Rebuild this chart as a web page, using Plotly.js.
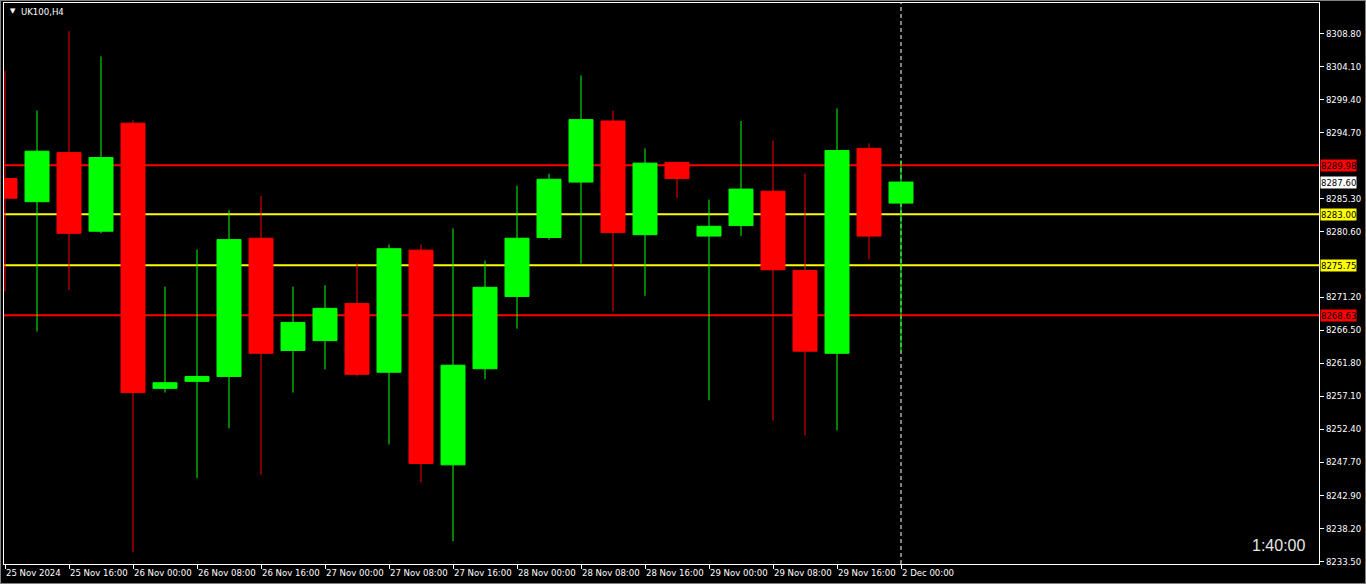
<!DOCTYPE html>
<html>
<head>
<meta charset="utf-8">
<script src="https://cdn.plot.ly/plotly-3.0.1.min.js"></script>
<style>
html,body{margin:0;padding:0;background:#000;}
#chart{width:1366px;height:584px;}
</style>
</head>
<body>
<div id="chart"></div>
<script>
// ---- data ----
const barTimes = [
  "25 Nov 08:00","25 Nov 12:00","25 Nov 16:00","25 Nov 20:00",
  "26 Nov 00:00","26 Nov 04:00","26 Nov 08:00","26 Nov 12:00","26 Nov 16:00","26 Nov 20:00",
  "27 Nov 00:00","27 Nov 04:00","27 Nov 08:00","27 Nov 12:00","27 Nov 16:00","27 Nov 20:00",
  "28 Nov 00:00","28 Nov 04:00","28 Nov 08:00","28 Nov 12:00","28 Nov 16:00","28 Nov 20:00",
  "29 Nov 00:00","29 Nov 04:00","29 Nov 08:00","29 Nov 12:00","29 Nov 16:00","29 Nov 20:00",
  "2 Dec 00:00"
];
const openP  = [8288.1,8284.8,8291.8,8280.6,8296.0,8258.2,8259.2,8259.9,8279.6,8263.6,
                8265.0,8270.3,8260.5,8277.9,8247.3,8261.0,8271.3,8279.7,8287.6,8296.3,
                8280.1,8290.4,8279.9,8281.4,8286.3,8275.0,8263.2,8292.4,8284.6];
const highP  = [8303.5,8297.8,8309.1,8305.5,8296.4,8272.7,8278.0,8283.6,8285.6,8272.7,
                8272.9,8276.0,8278.7,8278.7,8281.0,8276.4,8287.1,8288.8,8302.8,8297.8,
                8292.4,8290.5,8285.1,8296.3,8293.5,8288.8,8298.1,8293.1,8290.7];
const lowP   = [8272.0,8266.3,8272.2,8280.3,8234.9,8257.6,8245.4,8252.5,8245.9,8257.6,
                8260.9,8259.9,8250.2,8244.8,8236.4,8259.5,8266.7,8279.4,8276.0,8269.2,
                8271.4,8285.3,8256.5,8279.9,8253.6,8251.5,8252.2,8276.6,8263.5];
const closeP = [8285.3,8292.0,8280.3,8291.1,8257.6,8259.0,8259.9,8279.4,8263.2,8267.6,
                8269.6,8260.2,8278.1,8247.5,8261.5,8272.6,8279.6,8288.0,8296.5,8280.4,
                8290.3,8288.1,8281.3,8286.6,8275.1,8263.5,8292.1,8279.9,8287.6];

const xTickIdx   = [0,2,4,6,8,10,12,14,16,18,20,22,24,26,28];
const xTickText  = ["25 Nov 2024","25 Nov 16:00","26 Nov 00:00","26 Nov 08:00","26 Nov 16:00",
                    "27 Nov 00:00","27 Nov 08:00","27 Nov 16:00","28 Nov 00:00","28 Nov 08:00",
                    "28 Nov 16:00","29 Nov 00:00","29 Nov 08:00","29 Nov 16:00","2 Dec 00:00"];
const yTickVals  = [8308.80,8304.10,8299.40,8294.70,8285.30,8280.60,8271.20,8266.50,
                    8261.80,8257.10,8252.40,8247.70,8242.90,8238.20,8233.50];

const levelPrices = [8289.98, 8283.00, 8275.75, 8268.63];
const levelKinds  = ["resistance","pivot","pivot","support"];
const currentPrice = 8287.60;
const symbolTitle = "UK100,H4";
const timerText = "1:40:00";
const separatorIdx = 28;

// ---- styles ----
const GREEN = "#00ff00", RED = "#ff0000", YELLOW = "#ffff00";
const FONT = "Tahoma, 'DejaVu Sans Condensed', 'Liberation Sans', sans-serif";
const idx = barTimes.map((_, i) => i);

const trace = {
  type: "candlestick",
  x: idx, open: openP, high: highP, low: lowP, close: closeP,
  text: barTimes,
  increasing: {line: {color: GREEN, width: 1}, fillcolor: GREEN},
  decreasing: {line: {color: RED, width: 1}, fillcolor: RED},
  whiskerwidth: 0,
  hoverinfo: "skip",
  showlegend: false
};

const levelColor = k => (k === "pivot" ? YELLOW : RED);

const shapes = [];
// separator (dashed, behind candles)
shapes.push({type: "line", xref: "x", yref: "paper", x0: separatorIdx, x1: separatorIdx, y0: 0, y1: 1,
             line: {color: "#ffffff", width: 1, dash: "4px,3px"}, layer: "below"});
levelPrices.forEach((p, i) => {
  shapes.push({type: "line", xref: "paper", yref: "y", x0: 0, x1: 1, y0: p, y1: p,
               line: {color: levelColor(levelKinds[i]), width: 2}, layer: "below"});
});
// outer window frame (grey)
shapes.push({type: "rect", xref: "paper", yref: "paper", x0: -4/1315, x1: 1 + 47/1315, y0: -20/561, y1: 1 + 3/561,
             line: {color: "#808080", width: 2}, fillcolor: "rgba(0,0,0,0)", layer: "below"});

const annotations = [];
levelPrices.forEach((p, i) => {
  annotations.push({xref: "paper", yref: "y", x: 1, y: p, xanchor: "left", yanchor: "middle", xshift: 1,
    text: p.toFixed(2), showarrow: false, bgcolor: levelColor(levelKinds[i]), borderpad: 0,
    font: {family: FONT, size: 9.5, color: "#000000"}});
});
annotations.push({xref: "paper", yref: "y", x: 1, y: currentPrice, xanchor: "left", yanchor: "middle", xshift: 1,
  text: currentPrice.toFixed(2), showarrow: false, bgcolor: "#ffffff", borderpad: 0,
  font: {family: FONT, size: 9.5, color: "#000000"}});
annotations.push({xref: "paper", yref: "paper", x: 4/1315, y: 1 - 8/561, xanchor: "left", yanchor: "middle",
  text: "▼", showarrow: false, font: {family: "DejaVu Sans", size: 7, color: "#ffffff"}});
annotations.push({xref: "paper", yref: "paper", x: 15/1315, y: 1 - 8/561, xanchor: "left", yanchor: "middle",
  text: symbolTitle, showarrow: false, font: {family: FONT, size: 9.5, color: "#ffffff"}});
annotations.push({xref: "paper", yref: "paper", x: (1307-4)/1315, y: (564-545)/561, xanchor: "right", yanchor: "middle",
  text: timerText, showarrow: false, font: {family: "Liberation Sans, Arial, sans-serif", size: 16, color: "#e6e6e6"}});

const layout = {
  width: 1366, height: 584,
  margin: {l: 4, r: 47, t: 3, b: 20, pad: 0},
  paper_bgcolor: "#000000", plot_bgcolor: "#000000",
  showlegend: false,
  boxgap: 0.25, boxgroupgap: 0,
  font: {family: FONT, size: 9.5, color: "#ffffff"},
  xaxis: {
    type: "linear", range: [-1/32, -1/32 + 1315/32], fixedrange: true,
    rangeslider: {visible: false},
    showgrid: false, zeroline: false,
    showline: true, linecolor: "#ffffff", linewidth: 1, mirror: true,
    ticks: "outside", ticklen: 4, tickcolor: "#ffffff", tickwidth: 1,
    tickmode: "array", tickvals: xTickIdx, ticktext: xTickText,
    ticklabelposition: "outside right",
    tickfont: {family: FONT, size: 9.5, color: "#ffffff"},
    tickangle: 0
  },
  yaxis: {
    side: "right", range: [8233.17, 8313.12], fixedrange: true,
    showgrid: false, zeroline: false,
    showline: true, linecolor: "#ffffff", linewidth: 1, mirror: true,
    ticks: "outside", ticklen: 4, tickcolor: "#ffffff", tickwidth: 1,
    tickmode: "array", tickvals: yTickVals, ticktext: yTickVals.map(v => v.toFixed(2)),
    tickfont: {family: FONT, size: 9.5, color: "#ffffff"}
  },
  shapes: shapes,
  annotations: annotations,
  hovermode: false
};

Plotly.newPlot("chart", [trace], layout, {displayModeBar: false, staticPlot: true});
</script>
</body>
</html>
